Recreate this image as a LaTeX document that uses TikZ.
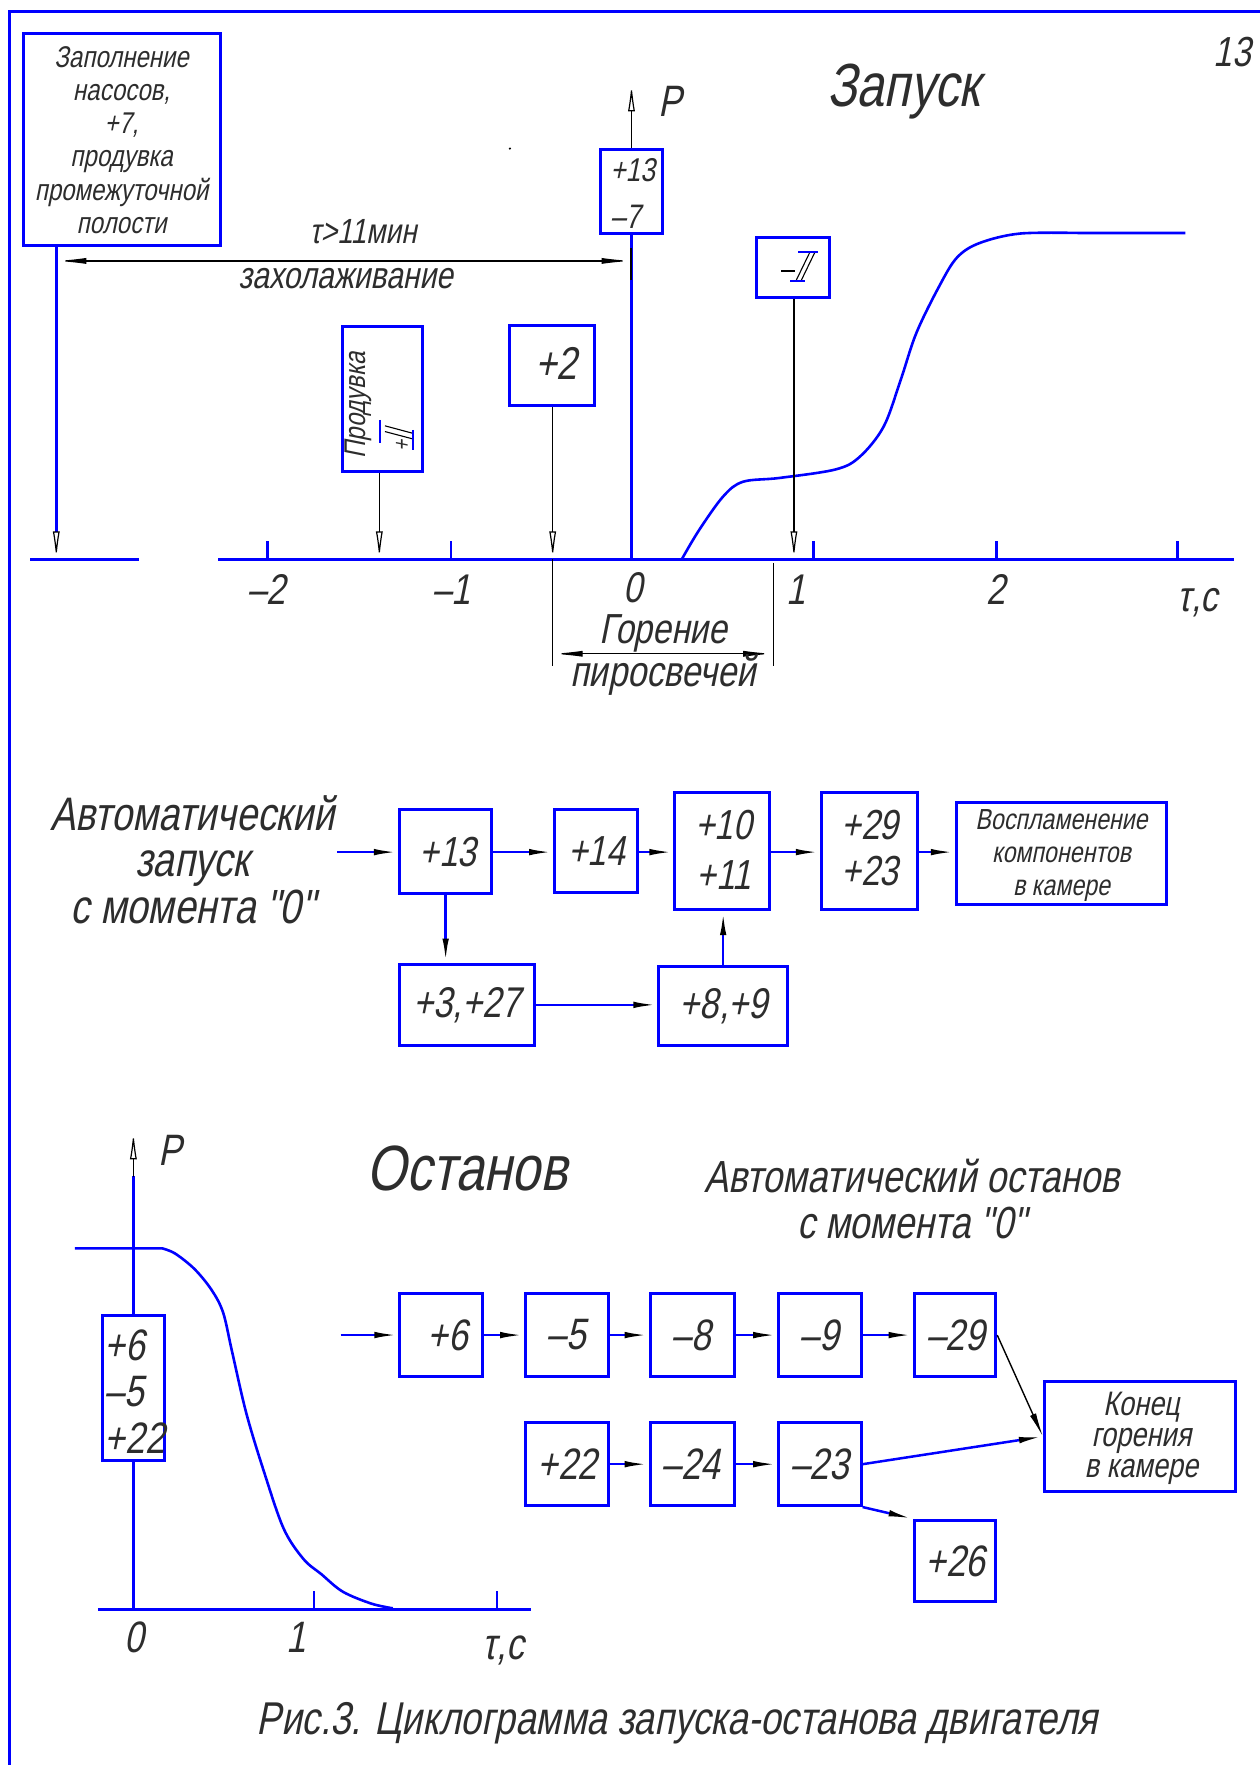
\documentclass[tikz,border=0pt]{standalone}
\usepackage{fontspec}
\newfontfamily\gost{Liberation Sans}[FakeStretch=0.8,FakeSlant=0.2]
\usetikzlibrary{arrows.meta,fit}
\newcommand\myfs[1]{\fontsize{#1}{#1}\selectfont}
\definecolor{cadblue}{RGB}{0,0,255}
\definecolor{txtc}{RGB}{45,45,45}
\tikzset{
  bx/.style={draw=cadblue, line width=3pt, fill=white, inner sep=0pt},
  txt/.style={text=txtc, inner sep=0pt},
  bl/.style={draw=cadblue, line width=3pt},
  vl/.style={draw=cadblue, line width=2.5pt},
  kl/.style={draw=black, line width=1.6pt},
  conn/.style={draw=cadblue, line width=2.5pt, -{Latex[length=24pt,width=6.5pt,color=black]}},
  downarr/.style={-{Latex[open,length=28pt,width=7pt,color=black,line width=1.2pt]}},
  dimarr/.style={draw=black, line width=1.2pt, {Latex[length=30pt,width=6pt]}-{Latex[length=30pt,width=6pt]}},
  thin/.style={draw=black, line width=1.1pt},
  curve/.style={draw=cadblue, line width=2.6pt},
}
\begin{document}
\begin{tikzpicture}[x=1.126pt,y=-1.126pt]
\useasboundingbox (0,0) rectangle (1119,1568);
% frame
\draw[bl] (8,1568) -- (8,9.8) -- (1119,9.8);

% ================= TOP: start =================
\coordinate (tA) at (50,497);
\coordinate (tPr) at (337,497);
\coordinate (t2) at (491,497);
\coordinate (t0) at (561,497);
\coordinate (tII) at (705.3,497);
\coordinate (pTop) at (561,74);
\coordinate (dL) at (50,231.8);
\coordinate (dR) at (561,231.8);

% baselines and ticks
\draw[bl] (27,497) -- (123.5,497);
\draw[bl] (194,497) -- (1096,497);
\foreach \x in {237.7,400.5,722.5,885.2,1046} \draw[vl] (\x,497) -- (\x,481);

% P axis
\draw[vl] (t0) -- (561,207);
\draw[kl, -{Latex[open,length=28pt,width=7pt,line width=1.2pt]}] (561,134) -- (pTop);
\draw[black, line width=2pt] (561,220) -- (561,249);

% start curve
\draw[curve] plot[smooth, tension=0.55] coordinates {(605.6,497) (621,471) (642.5,441) (660,428) (692.5,424.6) (742.5,417) (764,405.6) (785,379) (800,338) (814,296) (834,255) (850,229) (870,216) (906,207.5) (960,207)} -- (1053,207);

% boxes top
\node[bx, fit={(21,29.6) (195.7,218.5)}] (bA) {};
\node[bx, fit={(533.8,133.2) (588.5,207.2)}] (bP13) {};
\node[bx, fit={(304,290) (375,419)}] (bPr) {};
\node[bx, fit={(452.6,289.5) (528.3,360.6)}] (b2) {};
\node[bx, fit={(672,211) (737,264)}] (bII) {};

% vertical event lines
\draw[vl, downarr] (bA.south -| tA) -- (tA);
\draw[kl, downarr] (bPr.south -| tPr) -- (tPr);
\draw[kl, downarr] (b2.south -| t2) -- (t2);
\draw[kl, downarr] (bII.south -| tII) -- (tII);

% dimension tau > 11 min
\draw[dimarr] (dL) -- (dR);
\node[txt, font=\gost\myfs{35}, anchor=base] (tau11) at (322.6,216) {τ>11мин};
\node[txt, font=\gost\myfs{37.5}, anchor=base] (zax) at (307,256) {захолаживание};

% texts in top boxes
\node[txt, align=center, font=\gost\fontsize{30}{33.3}\selectfont] (tA1) at (108,124.3) {Заполнение\\насосов,\\+7,\\продувка\\промежуточной\\полости};
\node[txt, font=\gost\myfs{33}, anchor=base west] (t13) at (542,161.4) {+13};
\node[txt, font=\gost\myfs{34}, anchor=base west] (t7) at (542,202.6) {–7};
\node[txt, font=\gost\myfs{46}, anchor=base] (t2t) at (494,337.5) {+2};
\node[txt, font=\gost\myfs{30}, rotate=90] (tPrt) at (318,360) {Продувка};
\node[txt, font=\gost\myfs{24}, rotate=90] (tPlus) at (358,396) {+};
\draw[thin] (342,378.3) -- (367,385);
\draw[thin] (342,383.4) -- (367,390);
\draw[vl] (337.5,373) -- (337.5,393.5);
\draw[vl] (367,382) -- (367,399.6);
% -II
\draw[black, line width=1.4pt] (694,240.6) -- (706,240.6);
\draw[thin] (707.5,248.7) -- (719.3,224.4);
\draw[thin] (712,248.7) -- (723.8,224.4);
\draw[vl] (709,224) -- (727,224);
\draw[vl] (702,249.5) -- (715,249.5);

% labels
\node[txt, font=\gost\myfs{44}, anchor=base] (lP) at (595.3,103.6) {P};
\node[txt, font=\gost\myfs{61}, anchor=base] (lZap) at (802.6,94.7) {Запуск};
\node[txt, font=\gost\myfs{42}, anchor=base] (l13) at (1095,59.2) {13};
\fill[black] (453,132) circle (1.1);
\node[txt, font=\gost\myfs{43}, anchor=base] at (237,537) {–2};
\node[txt, font=\gost\myfs{43}, anchor=base] at (401,537) {–1};
\node[txt, font=\gost\myfs{43}, anchor=base] at (562,535) {0};
\node[txt, font=\gost\myfs{43}, anchor=base] at (707,537) {1};
\node[txt, font=\gost\myfs{43}, anchor=base] at (885,537) {2};
\node[txt, font=\gost\myfs{43}, anchor=base] at (1064,543) {τ,с};

% burning of igniters
\coordinate (gL) at (491,580.8);
\coordinate (gR) at (686.8,580.8);
\draw[thin] (t2) -- (491,592);
\draw[thin] (686.8,500) -- (686.8,592);
\draw[dimarr] (gL) -- (gR);
\node[txt, font=\gost\myfs{42}, anchor=base] at (589,572) {Горение};
\node[txt, font=\gost\myfs{43}, anchor=base] at (589,610) {пиросвечей};

% ================= MIDDLE: automatic start =================
\node[txt, font=\gost\myfs{47}, anchor=base] (at1) at (171,737.7) {Автоматический};
\node[txt, font=\gost\myfs{48}, anchor=base] (at2) at (171,778.6) {запуск};
\node[txt, font=\gost\myfs{48}, anchor=base] (at3) at (171,820) {с момента "0"};

\node[bx, fit={(354.8,719.4) (437,794.2)}] (m13) {};
\node[bx, fit={(492.6,719.4) (566,792.5)}] (m14) {};
\node[bx, fit={(599.6,703.7) (684,808.2)}] (m1011) {};
\node[bx, fit={(729.6,703.7) (815.3,808.2)}] (m2923) {};
\node[bx, fit={(849.5,712.8) (1036.6,803.7)}] (mVos) {};
\node[bx, fit={(354.8,856.4) (474.8,929)}] (m327) {};
\node[bx, fit={(585.3,858.5) (699.6,929)}] (m89) {};

\node[txt, font=\gost\myfs{42}] at (398,757) {+13};
\node[txt, font=\gost\myfs{42}] at (530,756) {+14};
\node[txt, font=\gost\myfs{42}] at (643,733) {+10};
\node[txt, font=\gost\myfs{42}] at (643,777) {+11};
\node[txt, font=\gost\myfs{42}] at (773,733) {+29};
\node[txt, font=\gost\myfs{42}] at (773,774) {+23};
\node[txt, font=\gost\fontsize{29}{33}\selectfont, align=center] at (943,760) {Воспламенение\\компонентов\\в камере};
\node[txt, font=\gost\myfs{43}] at (415,893) {+3,+27};
\node[txt, font=\gost\myfs{43}] at (643,894) {+8,+9};

\coordinate (minS) at (299.8,757);
\draw[conn] (minS) -- (m13.west |- minS);
\draw[conn] (m13.east |- minS) -- (m14.west |- minS);
\draw[conn] (m14.east |- minS) -- (m1011.west |- minS);
\draw[conn] (m1011.east |- minS) -- (m2923.west |- minS);
\draw[conn] (m2923.east |- minS) -- (mVos.west |- minS);
\draw[conn] (m13.south) -- (m327.north -| m13.south);
\draw[conn] (m327.east) -- (m89.west |- m327.east);
\draw[conn] (m89.north) -- (m1011.south -| m89.north);

% ================= BOTTOM: stop =================
\coordinate (o0) at (118.5,1430);
\coordinate (pTop2) at (118.5,1005);
\draw[bl] (87,1430) -- (472,1430);
\foreach \x in {279,441.5} \draw[vl] (\x,1430) -- (\x,1413.5);
\draw[vl] (o0) -- (118.5,1045);
\draw[kl, -{Latex[open,length=28pt,width=7pt,line width=1.2pt]}] (118.5,1046) -- (pTop2);
\draw[curve] (66.6,1109) -- (144,1109) plot[smooth, tension=0.55] coordinates {(144,1109) (155.4,1113.5) (172.8,1127.4) (188,1146) (198.2,1166) (206,1200) (218.8,1255.4) (234.7,1308) (252,1358) (269.6,1385) (285.4,1398.4) (304.5,1414) (329.9,1424.6) (349,1428.8)};

\node[bx, fit={(91,1168.7) (145.8,1297.5)}] (rL) {};
\node[txt, font=\gost\myfs{44}, anchor=west] at (93,1195) {+6};
\node[txt, font=\gost\myfs{44}, anchor=west] at (93,1236.5) {–5};
\node[txt, font=\gost\myfs{44}, anchor=west] at (93,1278) {+22};

\node[txt, font=\gost\myfs{44}, anchor=base] (lP2) at (151.4,1035) {P};
\node[txt, font=\gost\myfs{44}, anchor=base] at (119,1468) {0};
\node[txt, font=\gost\myfs{44}, anchor=base] at (263,1468) {1};
\node[txt, font=\gost\myfs{44}, anchor=base] at (447,1474) {τ,с};

\node[txt, font=\gost\myfs{64}, anchor=base] (lOst) at (415,1058) {Останов};
\node[txt, font=\gost\myfs{45}, anchor=base] (ao1) at (810,1059) {Автоматический останов};
\node[txt, font=\gost\myfs{45}, anchor=base] (ao2) at (810,1100) {с момента "0"};

\node[bx, fit={(355.2,1149.5) (429,1222.6)}] (r6) {};
\node[bx, fit={(466.9,1149.5) (540.7,1222.6)}] (r5) {};
\node[bx, fit={(577.5,1149.5) (652.3,1222.6)}] (r8) {};
\node[bx, fit={(691.8,1149.5) (765,1222.6)}] (r9) {};
\node[bx, fit={(812,1149.5) (884.6,1222.6)}] (r29) {};
\node[bx, fit={(466.9,1264) (540.7,1337.5)}] (r22) {};
\node[bx, fit={(577.5,1264) (652.3,1337.5)}] (r24) {};
\node[bx, fit={(691.8,1264) (765,1337.5)}] (r23) {};
\node[bx, fit={(812,1350.5) (884.6,1422.4)}] (r26) {};
\node[bx, fit={(927.8,1227) (1098,1325.3)}] (rK) {};

\node[txt, font=\gost\myfs{44}] at (398,1186) {+6};
\node[txt, font=\gost\myfs{44}] at (503,1186) {–5};
\node[txt, font=\gost\myfs{44}] at (614,1186) {–8};
\node[txt, font=\gost\myfs{44}] at (728,1186) {–9};
\node[txt, font=\gost\myfs{44}] at (849,1186) {–29};
\node[txt, font=\gost\myfs{44}] at (504,1301) {+22};
\node[txt, font=\gost\myfs{44}] at (614,1301) {–24};
\node[txt, font=\gost\myfs{44}] at (728,1301) {–23};
\node[txt, font=\gost\myfs{44}] at (849,1387) {+26};
\node[txt, font=\gost\fontsize{34}{31}\selectfont, align=center] at (1014,1278) {Конец\\горения\\в камере};

\coordinate (rin) at (302.6,1186);
\draw[conn] (rin) -- (r6.west |- rin);
\draw[conn] (r6.east) -- (r5.west);
\draw[conn] (r5.east) -- (r8.west);
\draw[conn] (r8.east) -- (r9.west);
\draw[conn] (r9.east) -- (r29.west);
\draw[conn] (r22.east) -- (r24.west);
\draw[conn] (r24.east) -- (r23.west);
\draw[conn, draw=black, line width=1.4pt] (r29.east) -- (rK.west);
\draw[conn] (r23.east) -- (rK.west);
\draw[conn] (r23.south east) -- (r26.north west);

% caption
\node[txt, font=\gost\myfs{46}, anchor=base] (cap) at (601.5,1541) {Рис.3. Циклограмма запуска-останова двигателя};
\end{tikzpicture}
\end{document}
